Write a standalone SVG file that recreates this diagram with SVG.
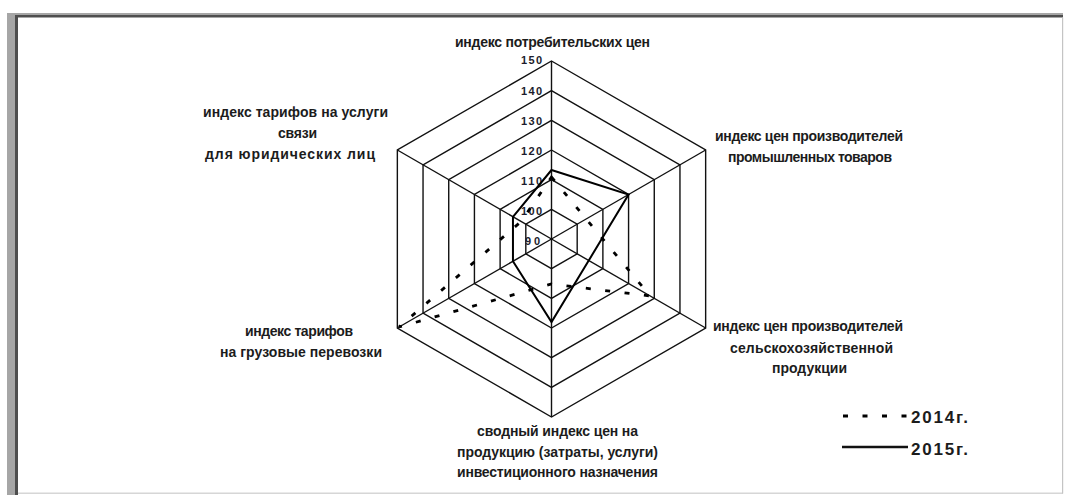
<svg xmlns="http://www.w3.org/2000/svg" width="1071" height="495" viewBox="0 0 1071 495">
<style>
.grid{fill:none;stroke:#111;stroke-width:1.4}
.spoke{stroke:#111;stroke-width:1.4}
.s2014{fill:none;stroke:#000;stroke-width:2.8;stroke-dasharray:5 14.5}
.s2015{fill:none;stroke:#000;stroke-width:2;stroke-linejoin:miter}
.lbl{font-family:"Liberation Sans",Arial,sans-serif;font-size:14px;font-weight:bold;fill:#1c1c1c;text-anchor:middle}
.val{font-family:"Liberation Sans",Arial,sans-serif;font-size:11px;font-weight:bold;fill:#1c1c2c;text-anchor:end}
.leg{font-family:"Liberation Sans",Arial,sans-serif;font-size:17px;font-weight:bold;fill:#1c1c1c}
</style>
<rect x="0" y="0" width="1071" height="495" fill="#fff"/>
<g id="frame">
<rect x="7" y="13" width="8" height="482" fill="#a6a6a6"/>
<rect x="7" y="13" width="1056" height="2" fill="#a6a6a6"/>
<rect x="15" y="15" width="3" height="480" fill="#4e4e4e"/>
<rect x="15" y="15" width="1048" height="2.5" fill="#4e4e4e"/>
<rect x="18" y="492.5" width="1045" height="1.5" fill="#d6d6d6"/>
<rect x="1062" y="17.5" width="1.2" height="476" fill="#c4c4c4"/>
</g>
<g id="grid">
<polygon class="grid" points="551.5,209.33 577.19,224.17 577.19,253.83 551.5,268.67 525.81,253.83 525.81,224.17"/>
<polygon class="grid" points="551.5,179.67 602.88,209.33 602.88,268.67 551.5,298.33 500.12,268.67 500.12,209.33"/>
<polygon class="grid" points="551.5,150 628.57,194.5 628.57,283.5 551.5,328 474.43,283.5 474.43,194.5"/>
<polygon class="grid" points="551.5,120.33 654.27,179.67 654.27,298.33 551.5,357.67 448.73,298.33 448.73,179.67"/>
<polygon class="grid" points="551.5,90.67 679.96,164.83 679.96,313.17 551.5,387.33 423.04,313.17 423.04,164.83"/>
<polygon class="grid" points="551.5,61 705.65,150 705.65,328 551.5,417 397.35,328 397.35,150"/>
<line class="spoke" x1="551.5" y1="239" x2="551.5" y2="61"/>
<line class="spoke" x1="551.5" y1="239" x2="705.65" y2="150"/>
<line class="spoke" x1="551.5" y1="239" x2="705.65" y2="328"/>
<line class="spoke" x1="551.5" y1="239" x2="551.5" y2="417"/>
<line class="spoke" x1="551.5" y1="239" x2="397.35" y2="328"/>
<line class="spoke" x1="551.5" y1="239" x2="397.35" y2="150"/>
</g>
<g id="axis-values">
<text class="val" x="542" y="64" textLength="21">150</text>
<text class="val" x="542" y="95" textLength="21">140</text>
<text class="val" x="542" y="124.5" textLength="21">130</text>
<text class="val" x="542" y="154.5" textLength="21">120</text>
<text class="val" x="542" y="185" textLength="21">110</text>
<text class="val" x="542" y="215" textLength="21">100</text>
<text class="val" x="540" y="245" textLength="15">90</text>
</g>
<g id="connectors">
<polygon id="series-2014" class="s2014" points="551.5,177 586.14,219 650.22,296 551.5,284 399.08,327 521.19,221.5"/>
<polygon id="series-2015" class="s2015" points="551.5,170 628.57,194.5 588.74,260.5 551.5,322 512.96,261.25 512.96,216.75"/>
</g>
<g id="label-cpi">
<text class="lbl" x="552.5" y="47" textLength="195">индекс потребительских цен</text>
</g>
<g id="label-industrial">
<text class="lbl" x="809" y="140.5" textLength="188">индекс цен производителей</text>
<text class="lbl" x="810" y="162" textLength="164">промышленных товаров</text>
</g>
<g id="label-agri">
<text class="lbl" x="808" y="330.5" textLength="190">индекс цен производителей</text>
<text class="lbl" x="811.5" y="352.5" textLength="163">сельскохозяйственной</text>
<text class="lbl" x="809.5" y="372.5" textLength="75">продукции</text>
</g>
<g id="label-investment">
<text class="lbl" x="557.5" y="435.5" textLength="161">сводный индекс цен на</text>
<text class="lbl" x="557.5" y="456.5" textLength="201">продукцию (затраты, услуги)</text>
<text class="lbl" x="557.5" y="477" textLength="201">инвестиционного назначения</text>
</g>
<g id="label-freight">
<text class="lbl" x="299" y="335.5" textLength="108">индекс тарифов</text>
<text class="lbl" x="301" y="356.5" textLength="162">на грузовые перевозки</text>
</g>
<g id="label-telecom">
<text class="lbl" x="295.5" y="117" textLength="185">индекс тарифов на услуги</text>
<text class="lbl" x="297.5" y="138" textLength="39">связи</text>
<text class="lbl" x="290" y="159" textLength="170">для юридических лиц</text>
</g>
<g id="legend">
<line class="s2014" x1="843" y1="416" x2="908" y2="416"/>
<text class="leg" x="911" y="422.5" textLength="57">2014г.</text>
<line x1="842" y1="447" x2="908" y2="447" stroke="#111" stroke-width="2.6"/>
<text class="leg" x="911" y="455" textLength="57">2015г.</text>
</g>
</svg>
